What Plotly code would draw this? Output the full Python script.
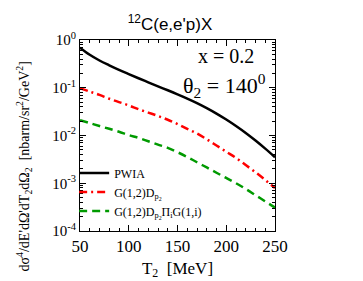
import plotly.graph_objects as go

T2 = [50, 60, 70, 80, 90, 100, 110, 120, 130, 140, 150, 160, 170, 180, 190, 200, 210, 220, 230, 240, 250]
pwia = [0.692, 0.490, 0.372, 0.295, 0.237, 0.193, 0.158, 0.130, 0.107, 0.0885, 0.0728, 0.0594, 0.0478,
        0.0375, 0.0288, 0.0216, 0.0158, 0.0113, 0.00783, 0.00530, 0.00350]
g12 = [0.0977, 0.0832, 0.0708, 0.0589, 0.0501, 0.0427, 0.0355, 0.0302, 0.0257, 0.0214, 0.0174, 0.0138,
       0.0110, 0.00832, 0.00617, 0.00457, 0.00339, 0.00240, 0.00170, 0.00117, 0.000794]
g12pi = [0.0209, 0.0182, 0.0158, 0.0138, 0.0120, 0.0102, 0.00891, 0.00759, 0.00646, 0.00550, 0.00447,
         0.00355, 0.00275, 0.00214, 0.00166, 0.00129, 0.00100, 0.000759, 0.000562, 0.000417, 0.000309]

names = ["PWIA", "G(1,2)D<sub>p<sub>2</sub></sub>", "G(1,2)D<sub>p<sub>2</sub></sub>Π<sub>i</sub>G(1,i)"]
x_ticks = [50, 100, 150, 200, 250]
y_ticks = [1e-4, 1e-3, 1e-2, 1e-1, 1]
y_ticktext = ["10<sup>-4</sup>", "10<sup>-3</sup>", "10<sup>-2</sup>", "10<sup>-1</sup>", "10<sup>0</sup>"]
y_minor = [m * 10.0 ** e for e in range(-4, 0) for m in range(2, 10)]
x_minor = list(range(50, 251, 10))

serif = "Liberation Serif, Times New Roman, serif"

fig = go.Figure()
fig.add_trace(go.Scatter(x=T2, y=pwia, mode="lines", name=names[0], line_shape="spline",
                         line=dict(color="black", width=2.5)))
fig.add_trace(go.Scatter(x=T2, y=g12, mode="lines", name=names[1], line_shape="spline",
                         line=dict(color="#ff0000", width=2.5, dash="8px,4px,2px,4px")))
fig.add_trace(go.Scatter(x=T2, y=g12pi, mode="lines", name=names[2], line_shape="spline",
                         line=dict(color="#009a00", width=2.5, dash="8px,5px")))

axis_common = dict(showgrid=False, zeroline=False, showline=True, linecolor="black", linewidth=1,
                   mirror="allticks", ticks="inside", tickcolor="black", ticklen=6, tickwidth=1)

fig.update_xaxes(range=[50, 250], tickmode="array", tickvals=x_ticks,
                 tickfont=dict(family=serif, size=17, color="black"),
                 minor=dict(tickmode="array", tickvals=x_minor, ticks="inside", ticklen=3,
                            tickcolor="black", tickwidth=1),
                 title=dict(text="T<sub>2</sub>  [MeV]", font=dict(family=serif, size=17, color="black"),
                            standoff=6),
                 **axis_common)
fig.update_yaxes(type="log", range=[-4, 0], tickmode="array", tickvals=y_ticks, ticktext=y_ticktext,
                 tickfont=dict(family=serif, size=15, color="black"),
                 minor=dict(tickmode="array", tickvals=y_minor, ticks="inside", ticklen=3,
                            tickcolor="black", tickwidth=1),
                 **axis_common)

fig.update_layout(
    width=363, height=281,
    margin=dict(l=72, r=96, t=32, b=58),
    paper_bgcolor="white", plot_bgcolor="white",
    title=dict(text="<sup>12</sup>C(e,e'p)X", x=162 / 363, xanchor="center",
               y=1 - 16 / 281, yanchor="middle",
               font=dict(family="Liberation Sans, Arial, sans-serif", size=17, color="black")),
    showlegend=True,
    legend=dict(x=-0.03, y=0.38, xanchor="left", yanchor="top", bgcolor="rgba(0,0,0,0)",
                font=dict(family=serif, size=12, color="black"), itemwidth=30,
                tracegroupgap=0),
    annotations=[
        dict(text="x = 0.2", xref="paper", yref="paper", x=0.905, y=0.915, xanchor="right",
             yanchor="middle", showarrow=False, font=dict(family=serif, size=20, color="black")),
        dict(text="θ<sub>2</sub> = 140<sup>0</sup>", xref="paper", yref="paper", x=0.965, y=0.76,
             xanchor="right", yanchor="middle", showarrow=False,
             font=dict(family=serif, size=22, color="black")),
        dict(text="dσ<sup>4</sup>/dE'dΩ'dT<sub>2</sub>dΩ<sub>2</sub>  [nbarm/sr<sup>2</sup>/GeV<sup>2</sup>]",
             xref="paper", yref="paper", x=-0.285, y=0.34, xanchor="center", yanchor="middle",
             textangle=-90, showarrow=False, font=dict(family=serif, size=14, color="black")),
    ],
)

fig.write_html("out.html")
